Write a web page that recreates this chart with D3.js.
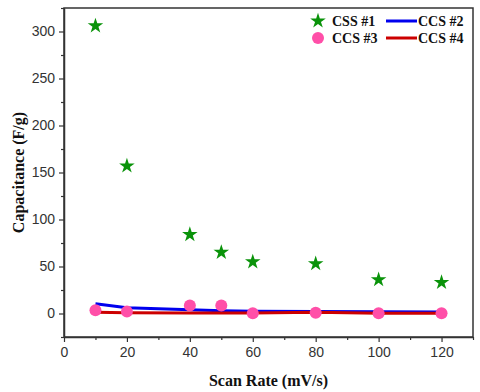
<!DOCTYPE html>
<html>
<head>
<meta charset="utf-8">
<script src="https://cdn.jsdelivr.net/npm/d3@7"></script>
<style>
  body { margin: 0; background: #fff; }
  svg { display: block; }
</style>
</head>
<body>
<svg id="chart" width="480" height="392"></svg>
<script>
// scan rates (mV/s)
const scanRates = [10, 20, 40, 50, 60, 80, 100, 120];
// capacitance values (F/g)
const css1 = [306, 157, 84, 65, 55, 53, 36, 33];
const ccs2 = [10.3, 6, 4, 3, 2.5, 2, 1.8, 1.5];
const ccs3 = [3.5, 2, 8.5, 8.5, 0.3, 0.8, 0.3, 0.3];
const ccs4 = [1.2, 0.8, 0.5, 0.5, 0.5, 1.2, 0.3, 0.3];
const xTicks = [0, 20, 40, 60, 80, 100, 120];
const yTicks = [0, 50, 100, 150, 200, 250, 300];

const margin = { top: 8, right: 7, bottom: 55, left: 64 },
  width = 480,
  height = 392;

const svg = d3.select("#chart");

const x = d3.scaleLinear([0, 130], [margin.left, width - margin.right]);
const y = d3.scaleLinear([-25, 325], [height - margin.bottom, margin.top]);

const pts = (vals) => scanRates.map((r, i) => ({ x: r, y: vals[i] }));

const line = d3
  .line()
  .x((d) => x(d.x))
  .y((d) => y(d.y));

// plot frame
svg
  .append("rect")
  .attr("x", margin.left)
  .attr("y", margin.top)
  .attr("width", width - margin.right - margin.left)
  .attr("height", height - margin.bottom - margin.top)
  .attr("fill", "none")
  .attr("stroke", "#333")
  .attr("stroke-width", 1.5);

// minor ticks
svg
  .append("g")
  .attr("transform", `translate(0,${height - margin.bottom})`)
  .call(d3.axisBottom(x).tickValues(d3.range(10, 131, 20)).tickSize(3).tickFormat(""))
  .call((g) => g.select(".domain").remove())
  .call((g) => g.selectAll("line").attr("stroke", "#333").attr("stroke-width", 1.2));
svg
  .append("g")
  .attr("transform", `translate(${margin.left},0)`)
  .call(d3.axisLeft(y).tickValues([-25, 25, 75, 125, 175, 225, 275, 325]).tickSize(3).tickFormat(""))
  .call((g) => g.select(".domain").remove())
  .call((g) => g.selectAll("line").attr("stroke", "#333").attr("stroke-width", 1.2));

// x-axis
svg
  .append("g")
  .attr("transform", `translate(0,${height - margin.bottom})`)
  .call(d3.axisBottom(x).tickValues(xTicks).tickSize(5).tickPadding(5).tickSizeOuter(0))
  .call((g) => g.select(".domain").attr("stroke", "#333").attr("stroke-width", 1.5))
  .call((g) => g.selectAll("line").attr("stroke", "#333").attr("stroke-width", 1.2))
  .call((g) =>
    g
      .selectAll("text")
      .attr("font-family", "Liberation Sans, Arial, sans-serif")
      .attr("font-size", 14)
      .attr("fill", "#333"),
  );

// y-axis
svg
  .append("g")
  .attr("transform", `translate(${margin.left},0)`)
  .call(d3.axisLeft(y).tickValues(yTicks).tickSize(5).tickPadding(4).tickSizeOuter(0))
  .call((g) => g.select(".domain").attr("stroke", "#333").attr("stroke-width", 1.5))
  .call((g) => g.selectAll("line").attr("stroke", "#333").attr("stroke-width", 1.2))
  .call((g) =>
    g
      .selectAll("text")
      .attr("font-family", "Liberation Sans, Arial, sans-serif")
      .attr("font-size", 14)
      .attr("fill", "#333"),
  );

// axis titles
svg
  .append("text")
  .attr("x", (margin.left + width - margin.right) / 2)
  .attr("y", 386)
  .attr("text-anchor", "middle")
  .attr("font-family", "Liberation Serif, Times New Roman, serif")
  .attr("font-weight", "bold")
  .attr("font-size", 16)
  .attr("fill", "#111")
  .text("Scan Rate (mV/s)");
svg
  .append("text")
  .attr("transform", `translate(24,${(margin.top + height - margin.bottom) / 2}) rotate(-90)`)
  .attr("text-anchor", "middle")
  .attr("font-family", "Liberation Serif, Times New Roman, serif")
  .attr("font-weight", "bold")
  .attr("font-size", 16)
  .attr("fill", "#111")
  .text("Capacitance (F/g)");

// series
svg
  .append("path")
  .attr("d", line(pts(ccs2)))
  .attr("fill", "none")
  .attr("stroke", "#0000ee")
  .attr("stroke-width", 3);
svg
  .append("path")
  .attr("d", line(pts(ccs4)))
  .attr("fill", "none")
  .attr("stroke", "#cc0000")
  .attr("stroke-width", 3);

svg
  .append("g")
  .selectAll("circle")
  .data(pts(ccs3))
  .join("circle")
  .attr("cx", (d) => x(d.x))
  .attr("cy", (d) => y(d.y))
  .attr("r", 6)
  .attr("fill", "#ff4fa8");

const star = d3.symbol(d3.symbolStar, 75);
svg
  .append("g")
  .selectAll("path")
  .data(pts(css1))
  .join("path")
  .attr("transform", (d) => `translate(${x(d.x)},${y(d.y)})`)
  .attr("d", star)
  .attr("fill", "#0a930a");

// legend
const leg = svg.append("g").attr("font-family", "Liberation Serif, Times New Roman, serif")
  .attr("font-weight", "bold").attr("font-size", 14).attr("fill", "#111");
leg.append("path").attr("transform", "translate(318,21)").attr("d", star).attr("fill", "#0a930a");
leg.append("text").attr("x", 332).attr("y", 26).text("CSS #1");
leg.append("line").attr("x1", 386).attr("x2", 417).attr("y1", 21).attr("y2", 21)
  .attr("stroke", "#0000ee").attr("stroke-width", 3);
leg.append("text").attr("x", 418).attr("y", 26).text("CCS #2");
leg.append("circle").attr("cx", 318).attr("cy", 38).attr("r", 6).attr("fill", "#ff4fa8");
leg.append("text").attr("x", 332).attr("y", 43).text("CCS #3");
leg.append("line").attr("x1", 386).attr("x2", 417).attr("y1", 38).attr("y2", 38)
  .attr("stroke", "#cc0000").attr("stroke-width", 3);
leg.append("text").attr("x", 418).attr("y", 43).text("CCS #4");
</script>
</body>
</html>
